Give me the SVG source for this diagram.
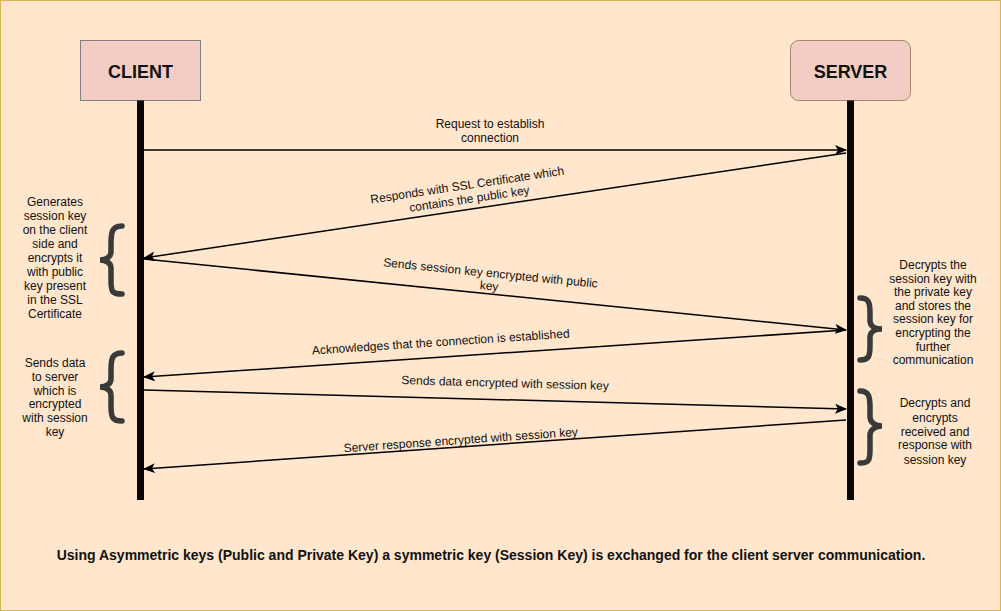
<svg xmlns="http://www.w3.org/2000/svg" width="1001" height="611" viewBox="0 0 1001 611">
<defs>
<style>
text{font-family:"Liberation Sans",Arial,Helvetica,sans-serif;fill:#111;}
.lbl{font-size:12px;text-anchor:middle;}
.title{font-size:18px;font-weight:bold;text-anchor:middle;}
.cap{font-size:14px;font-weight:bold;text-anchor:middle;}
.msg{stroke:#000;stroke-width:1.5;fill:none;marker-end:url(#ah);}
.life{stroke:#0d0505;stroke-width:7;}
.brace{stroke:#3a3a3a;stroke-width:5.5;fill:none;stroke-linecap:round;}
</style>
<marker id="ah" viewBox="0 0 12 10" refX="11" refY="5" markerWidth="12" markerHeight="10" markerUnits="userSpaceOnUse" orient="auto">
<path d="M0,0 L12,5 L0,10 L3,5 Z" fill="#000"/>
</marker>
</defs>
<rect x="0.5" y="0.5" width="1000" height="610" fill="#ffe6cc" stroke="#d6b656"/>

<g id="client">
<rect x="80.5" y="40.5" width="120" height="60" fill="#f3cdc3" stroke="#808080"/>
<text class="title" x="140.5" y="78">CLIENT</text>
<line class="life" x1="140.5" y1="100.5" x2="140.5" y2="500"/>
</g>

<g id="server">
<rect x="790.5" y="40.5" width="120" height="60" rx="8" fill="#f3cdc3" stroke="#a08a6a"/>
<text class="title" x="850.5" y="78">SERVER</text>
<line class="life" x1="850.5" y1="100.5" x2="850.5" y2="500"/>
</g>

<g id="connectors">
<line class="msg" x1="144" y1="150" x2="846" y2="150"/>
<line class="msg" x1="846" y1="153" x2="144" y2="258"/>
<line class="msg" x1="144" y1="259" x2="846" y2="330"/>
<line class="msg" x1="846" y1="330" x2="144" y2="377"/>
<line class="msg" x1="144" y1="390" x2="846" y2="409"/>
<line class="msg" x1="846" y1="420" x2="144" y2="469"/>
</g>

<g id="labels">
<text class="lbl" x="490" y="128">Request to establish</text>
<text class="lbl" x="490" y="142">connection</text>
<g transform="rotate(-8.5 468 190)">
<text class="lbl" x="468" y="189">Responds with SSL Certificate which</text>
<text class="lbl" x="468" y="203">contains the public key</text>
</g>
<g transform="rotate(5.7 490 278)">
<text class="lbl" x="490" y="277">Sends session key encrypted with public</text>
<text class="lbl" x="490" y="290">key</text>
</g>
<text class="lbl" transform="rotate(-3.8 441 346)" x="441" y="346">Acknowledges that the connection is established</text>
<text class="lbl" transform="rotate(1.6 505 387)" x="505" y="387">Sends data encrypted with session key</text>
<text class="lbl" transform="rotate(-4 461 444)" x="461" y="444">Server response encrypted with session key</text>
</g>

<g id="note-client-1">
<path class="brace" d="M122,226 C112,226 111,232 111,244 L111,252 C111,257 106,260 100,260 C106,260 111,263 111,268 L111,280 C111,292 112,294 122,294"/>
<text class="lbl" x="55" y="206">Generates</text>
<text class="lbl" x="55" y="220">session key</text>
<text class="lbl" x="55" y="234">on the client</text>
<text class="lbl" x="55" y="248">side and</text>
<text class="lbl" x="55" y="262">encrypts it</text>
<text class="lbl" x="55" y="276">with public</text>
<text class="lbl" x="55" y="290">key present</text>
<text class="lbl" x="55" y="304">in the SSL</text>
<text class="lbl" x="55" y="318">Certificate</text>
</g>

<g id="note-server-1">
<path class="brace" d="M860,298 C869,298 870,303 870,313 L870,321 C870,326 875,329 882,329 C875,329 870,332 870,337 L870,346 C870,356 869,360 860,360"/>
<text class="lbl" x="933" y="269">Decrypts the</text>
<text class="lbl" x="933" y="283">session key with</text>
<text class="lbl" x="933" y="296">the private key</text>
<text class="lbl" x="933" y="310">and stores the</text>
<text class="lbl" x="933" y="323">session key for</text>
<text class="lbl" x="933" y="337">encrypting the</text>
<text class="lbl" x="933" y="351">further</text>
<text class="lbl" x="933" y="364">communication</text>
</g>

<g id="note-client-2">
<path class="brace" d="M122,353 C112,353 111,359 111,370 L111,379 C111,384 106,387 100,387 C106,387 111,390 111,395 L111,405 C111,417 112,421 122,421"/>
<text class="lbl" x="55" y="367">Sends data</text>
<text class="lbl" x="55" y="381">to server</text>
<text class="lbl" x="55" y="395">which is</text>
<text class="lbl" x="55" y="408">encrypted</text>
<text class="lbl" x="55" y="422">with session</text>
<text class="lbl" x="55" y="436">key</text>
</g>

<g id="note-server-2">
<path class="brace" d="M860,391 C869,391 870,397 870,407 L870,417 C870,422 875,426 882,426 C875,426 870,430 870,435 L870,450 C870,460 869,463 860,463"/>
<text class="lbl" x="935" y="407">Decrypts and</text>
<text class="lbl" x="935" y="422">encrypts</text>
<text class="lbl" x="935" y="436">received and</text>
<text class="lbl" x="935" y="449">response with</text>
<text class="lbl" x="935" y="464">session key</text>
</g>

<text class="cap" x="491" y="560">Using Asymmetric keys (Public and Private Key) a symmetric key (Session Key) is exchanged for the client server communication.</text>
</svg>
